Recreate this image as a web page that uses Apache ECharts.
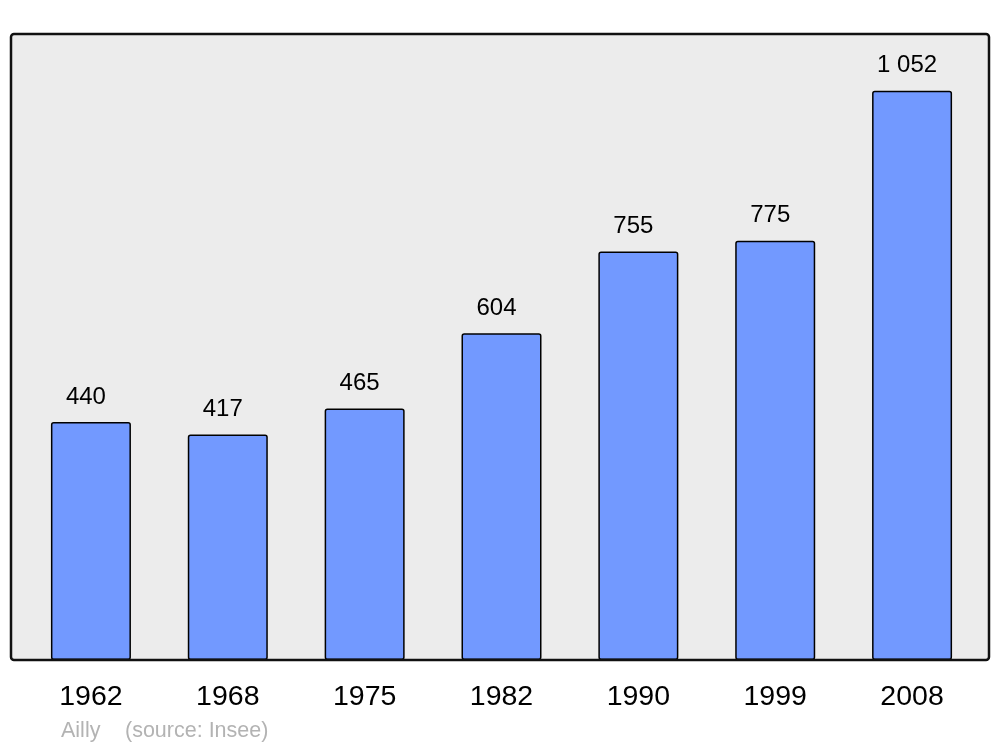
<!DOCTYPE html>
<html>
<head>
<meta charset="utf-8">
<script src="https://cdn.jsdelivr.net/npm/echarts@6/dist/echarts.min.js"></script>
<style>
  html, body { margin: 0; padding: 0; background: #fff; }
  #chart { width: 1000px; height: 747px; }
</style>
</head>
<body>
<div id="chart"></div>
<script>
var years = ['1962', '1968', '1975', '1982', '1990', '1999', '2008']
var population = [440, 417, 465, 604, 755, 775, 1052]

var chart = echarts.init(document.getElementById('chart'))
var option = {
  animation: false,
  grid: {
    left: 22.5,
    right: 19.5,
    top: 34,
    bottom: 87
  },
  xAxis: {
    type: 'category',
    data: years,
    axisLine: { show: false },
    axisTick: { show: false },
    axisLabel: {
      color: '#000',
      fontSize: 28.5,
      fontFamily: 'Liberation Sans',
      margin: 23
    }
  },
  yAxis: {
    type: 'value',
    min: 0,
    max: 1157,
    show: false,
    splitLine: { show: false }
  },
  graphic: [
    {
      type: 'rect',
      z: -10,
      shape: { x: 11, y: 34, width: 978, height: 626, r: 3 },
      style: { fill: '#ececec', stroke: 'none' }
    },
    {
      type: 'rect',
      z: 100,
      shape: { x: 11, y: 34, width: 978, height: 626, r: 3 },
      style: { fill: 'none', stroke: '#111', lineWidth: 2.5 }
    },
    {
      type: 'text',
      left: 61,
      top: 720,
      style: { text: 'Ailly', fill: '#b3b3b3', font: '21.5px "Liberation Sans"' }
    },
    {
      type: 'text',
      left: 125,
      top: 720,
      style: { text: '(source: Insee)', fill: '#b3b3b3', font: '21.5px "Liberation Sans"' }
    }
  ],
  series: [
    {
      type: 'bar',
      data: population,
      barWidth: 80,
      itemStyle: {
        color: '#7299ff',
        borderColor: '#000',
        borderWidth: 1.5,
        borderRadius: 2
      },
      label: {
        show: true,
        position: 'top',
        distance: 13,
        offset: [-5, 0],
        color: '#000',
        fontSize: 24,
        fontFamily: 'Liberation Sans',
        formatter: function (p) {
          return String(p.value).replace(/\B(?=(\d{3})+(?!\d))/g, ' ')
        }
      }
    }
  ]
}
chart.setOption(option)
</script>
</body>
</html>
